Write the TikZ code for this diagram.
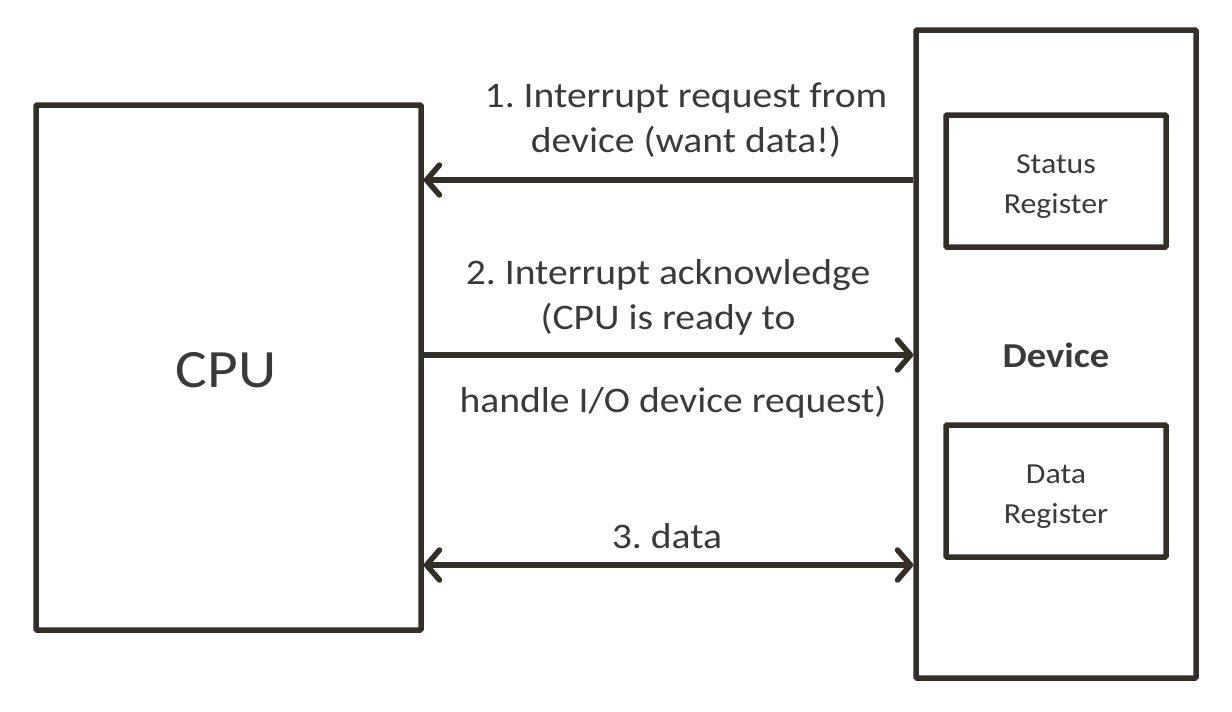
\documentclass[tikz,border=0pt]{standalone}
\usepackage{fontspec}
\setmainfont{Carlito}[FakeStretch=1.1]
\usetikzlibrary{arrows.meta}
\definecolor{ink}{HTML}{332F27}
\definecolor{txt}{HTML}{3A3A3A}
\frenchspacing
\begin{document}
\begin{tikzpicture}[x=1pt,y=-1pt,
  box/.style={draw=ink, line width=5.5pt, inner sep=0pt, rounded corners=1pt},
  conn/.style={draw=ink, line width=5.5pt},
  mybarb/.tip={Straight Barb[length=13pt, width=30pt, round, line width=5.5pt]},
  lbl/.style={text=txt, font=\fontsize{36}{45}\selectfont, align=center, inner sep=0pt},
  reg/.style={box, minimum width=220pt, minimum height=132pt},
  regtxt/.style={text=txt, font=\fontsize{29}{40}\selectfont, align=center, inner sep=0pt}
]
\useasboundingbox (0,0) rectangle (1232,712);
\node[box, minimum width=385pt, minimum height=525pt] (cpu) at (228.5,367.5) {};
\node[text=txt, font=\fontsize{54}{60}\selectfont, inner sep=0pt] (cputxt) at (226,370) {CPU};
\node[box, minimum width=280pt, minimum height=648pt] (dev) at (1056,354) {};
\node[reg] (status) at (1056,181) {};
\node[regtxt] (statustxt) at (1056,187) {Status\\Register};
\node[reg] (data) at (1056,491) {};
\node[regtxt] (datatxt) at (1056,497) {Data\\Register};
\node[text=txt, font=\fontsize{35}{40}\bfseries\selectfont, inner sep=0pt] (devtxt) at (1056,355) {Device};
\coordinate (a1) at (0,180);
\coordinate (a2) at (0,355);
\coordinate (a3) at (0,565);
\draw[conn, -{mybarb}] (dev.west |- a1) -- (cpu.east |- a1);
\draw[conn, -{mybarb}] (cpu.east |- a2) -- (dev.west |- a2);
\draw[conn, {mybarb}-{mybarb}] (cpu.east |- a3) -- (dev.west |- a3);
\node[lbl] (l1) at (686,120) {1. Interrupt request from\\device (want data!)};
\node[lbl] (l2) at (668,297) {2. Interrupt acknowledge\\(CPU is ready to};
\node[lbl] (l2b) at (673,402) {handle I/O device request)};
\node[lbl] (l3) at (667,536) {3. data};
\end{tikzpicture}
\end{document}
